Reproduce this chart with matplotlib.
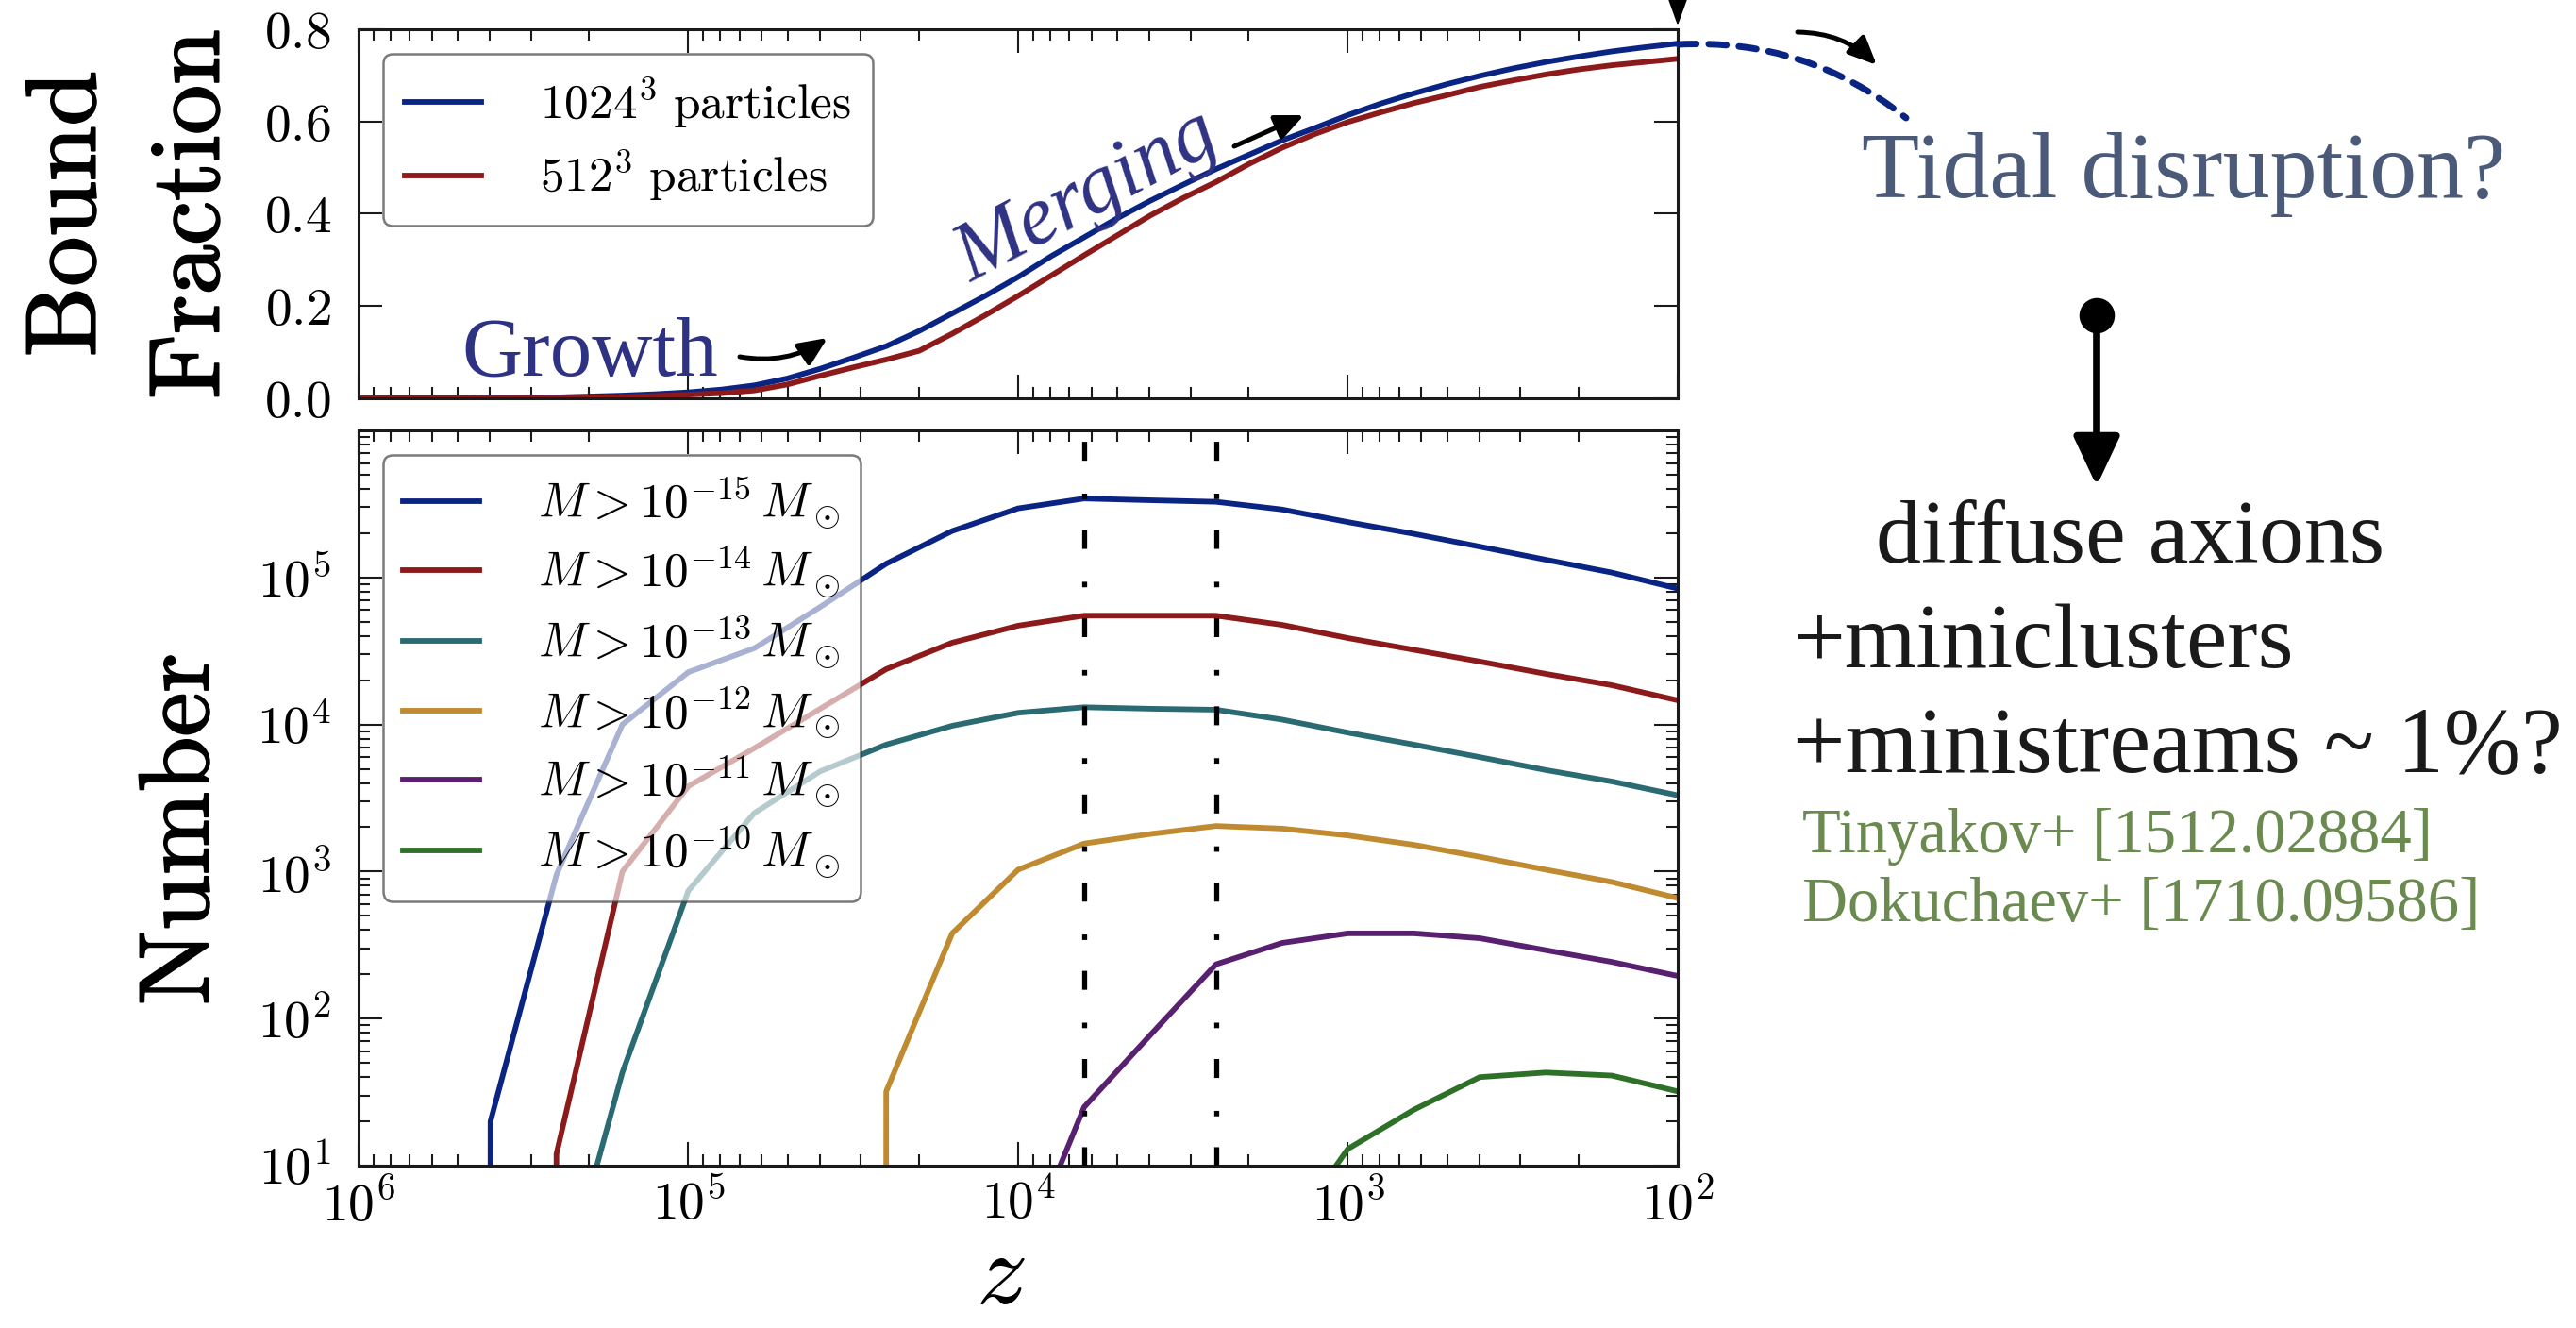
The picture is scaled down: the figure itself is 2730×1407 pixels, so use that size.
# bound fraction and halo counts vs redshift, with the side annotations

import numpy as np
import matplotlib
matplotlib.use('Agg')
import matplotlib.pyplot as plt
import matplotlib.patheffects as pe
from matplotlib.patches import FancyArrowPatch, Polygon
from matplotlib.lines import Line2D
from matplotlib.ticker import FixedLocator, FuncFormatter, LogLocator, NullFormatter, NullLocator

plt.rcParams['mathtext.fontset'] = 'cm'
plt.rcParams['font.family'] = ['Liberation Serif', 'DejaVu Serif']

W, H = 2730, 1407

# top panel: bound fraction, sampled in log10(z)
frac_logz = [6.0, 5.9, 5.8, 5.7, 5.6, 5.5, 5.4, 5.3, 5.2, 5.1, 5.0, 4.9, 4.8, 4.7, 4.6, 4.5, 4.4, 4.3, 4.2, 4.1,
             4.0, 3.9, 3.8, 3.7, 3.6, 3.5, 3.4, 3.3, 3.2, 3.1, 3.0, 2.9, 2.8, 2.7, 2.6, 2.5, 2.4, 2.3, 2.2, 2.1, 2.0]
frac_1024 = [0.0, 0.0, 0.0, 0.0, 0.001, 0.001, 0.002, 0.004, 0.006, 0.009, 0.013, 0.019, 0.028, 0.043, 0.064,
             0.088, 0.113, 0.146, 0.184, 0.222, 0.263, 0.308, 0.349, 0.390, 0.428, 0.463, 0.497, 0.528, 0.559,
             0.586, 0.614, 0.639, 0.661, 0.681, 0.699, 0.715, 0.729, 0.741, 0.752, 0.761, 0.769]
frac_512 = [0.0, 0.0, 0.0, 0.0, 0.0005, 0.001, 0.001, 0.002, 0.003, 0.005, 0.008, 0.011, 0.017, 0.030, 0.049,
            0.067, 0.084, 0.103, 0.140, 0.180, 0.222, 0.266, 0.310, 0.353, 0.396, 0.434, 0.469, 0.508, 0.543,
            0.573, 0.599, 0.620, 0.640, 0.657, 0.675, 0.689, 0.702, 0.713, 0.722, 0.729, 0.736]
frac_labels = [r'$1024^3\ \mathrm{particles}$', r'$512^3\ \mathrm{particles}$']

# bottom panel: number of halos above each mass cut
num_logz = [6.0, 5.8, 5.6, 5.4, 5.2, 5.0, 4.8, 4.6, 4.4, 4.2, 4.0, 3.8, 3.6, 3.4, 3.2, 3.0, 2.8, 2.6, 2.4, 2.2, 2.0]
num_m15 = [0, 0, 20, 950, 1.0e4, 2.27e4, 3.3e4, 6.3e4, 1.24e5, 2.07e5, 2.95e5, 3.44e5, 3.35e5, 3.27e5, 2.9e5,
           2.38e5, 1.98e5, 1.62e5, 1.32e5, 1.08e5, 8.4e4]
num_m14 = [0, 0, 0, 12, 1000, 3800, 6900, 1.28e4, 2.38e4, 3.6e4, 4.7e4, 5.5e4, 5.5e4, 5.5e4, 4.76e4, 3.87e4,
           3.22e4, 2.68e4, 2.21e4, 1.85e4, 1.46e4]
num_m13 = [0, 0, 0, 1, 43, 740, 2500, 4800, 7300, 9800, 1.2e4, 1.31e4, 1.28e4, 1.26e4, 1.08e4, 8800, 7300, 6000,
           4900, 4100, 3300]
num_m12 = [0, 0, 0, 0, 0, 0, 0, 0, 32, 380, 1030, 1550, 1800, 2040, 1960, 1760, 1520, 1260, 1030, 850, 660]
num_m11 = [0, 0, 0, 0, 0, 0, 0, 0, 0, 0, 2, 25, 77, 234, 327, 380, 380, 352, 292, 243, 195]
num_m10 = [0, 0, 0, 0, 0, 0, 0, 0, 0, 0, 0, 0, 0, 0, 3, 13, 24, 40, 43, 41, 32]
mass_exps = [-15, -14, -13, -12, -11, -10]
num_series = [num_m15, num_m14, num_m13, num_m12, num_m11, num_m10]

vline_logz = [3.8, 3.4]

blue = '#0a2484'
red = '#8c1a1a'
num_colors = [blue, red, '#2a6a72', '#c08a30', '#5a2070', '#2e7028']
indigo = '#2e3282'


def P(x, y):
    # pixel position (from top-left) -> figure fraction
    return (x / W, 1 - y / H)


fig = plt.figure(figsize=(W / 100, H / 100), dpi=100)
ax1 = fig.add_axes([380 / W, 1 - 422 / H, 1398 / W, 391 / H])
ax2 = fig.add_axes([380 / W, 1 - 1235 / H, 1398 / W, 779 / H])

for ax in (ax1, ax2):
    ax.set_xscale('log')
    ax.set_xlim(1e6, 1e2)
    ax.xaxis.set_major_locator(LogLocator(base=10, numticks=20))
    ax.xaxis.set_minor_locator(LogLocator(base=10, subs=np.arange(2, 10), numticks=20))
    ax.xaxis.set_minor_formatter(NullFormatter())
    ax.tick_params(which='both', direction='in', top=True, right=True, width=1.5, color='#1a1a1a')
    ax.tick_params(which='major', length=18, labelsize=40)
    ax.tick_params(which='minor', length=8.5)
    ax.tick_params(axis='x', pad=11)
    ax.tick_params(axis='y', pad=21)
    for s in ax.spines.values():
        s.set_linewidth(2.2)
        s.set_color('#1a1a1a')

# top panel
z_frac = 10 ** np.array(frac_logz)
ax1.plot(z_frac, frac_1024, color=blue, lw=4.2, label=frac_labels[0])
ax1.plot(z_frac, frac_512, color=red, lw=4.2, label=frac_labels[1])
ax1.set_ylim(0, 0.8)
ax1.yaxis.set_major_locator(FixedLocator([0.0, 0.2, 0.4, 0.6, 0.8]))
ax1.yaxis.set_major_formatter(FuncFormatter(lambda v, p: r'$%.1f$' % v))
ax1.yaxis.set_minor_locator(NullLocator())
ax1.tick_params(labelbottom=False)
leg1 = ax1.legend(loc='upper left', fontsize=37, fancybox=True, framealpha=0.65, edgecolor='0.2',
                  borderpad=0.45, handlelength=1.58, handletextpad=1.2, labelspacing=0.35, borderaxespad=0.5)
leg1.get_frame().set_linewidth(1.8)

# bottom panel
z_num = 10 ** np.array(num_logz)
for vals, c, e in zip(num_series, num_colors, mass_exps):
    ax2.plot(z_num, vals, color=c, lw=4.2, label=r'$M > 10^{%d}\,M_\odot$' % e)
for lz in vline_logz:
    ax2.axvline(10 ** lz, color='k', lw=3.8, dashes=[3.8, 6.2, 1.1, 6.6], zorder=3)
ax2.set_yscale('log', nonpositive='clip')
ax2.set_ylim(10, 1e6)
ax2.yaxis.set_major_locator(LogLocator(base=10, numticks=20))
ax2.yaxis.set_minor_locator(LogLocator(base=10, subs=np.arange(2, 10), numticks=20))
ax2.yaxis.set_minor_formatter(NullFormatter())
ax2.yaxis.set_major_formatter(FuncFormatter(
    lambda v, p: '' if v > 5e5 else r'$10^{%d}$' % int(round(np.log10(v)))))
ax2.xaxis.set_major_formatter(FuncFormatter(lambda v, p: r'$10^{%d}$' % int(round(np.log10(v)))))
leg2 = ax2.legend(loc='upper left', fontsize=37, fancybox=True, framealpha=0.65, edgecolor='0.2',
                  borderpad=0.42, handlelength=1.58, handletextpad=1.2, labelspacing=0.28, borderaxespad=0.5)
leg2.get_frame().set_linewidth(1.8)

# axis labels, slightly heavier strokes like the reference
bold = [pe.withStroke(linewidth=1.4, foreground='k')]
fig.text(*P(76, 227), r'$\mathrm{Bound}$', fontsize=76, rotation=90, ha='center', va='center', path_effects=bold)
fig.text(*P(207, 227), r'$\mathrm{Fraction}$', fontsize=76, rotation=90, ha='center', va='center',
         path_effects=bold)
fig.text(*P(196, 879), r'$\mathrm{Number}$', fontsize=76, rotation=90, ha='center', va='center',
         path_effects=bold)
fig.text(*P(1060, 1404), r'$z$', fontsize=78, ha='center', va='bottom')

# annotations on the plot
fig.text(*P(625, 398), 'Growth', fontsize=64, color=indigo, ha='center', va='baseline')
fig.text(*P(1162, 228), 'Merging', fontsize=64, color=indigo, style='italic', rotation=28,
         rotation_mode='anchor', ha='center', va='baseline')

head = 'head_length=1.8,head_width=0.8'
for a, b, rad in [((784, 378), (877, 358), 0.2), ((1308, 155), (1382, 122), 0.0), ((1905, 34), (1989, 69), -0.2)]:
    fig.patches.append(FancyArrowPatch(P(*a), P(*b), transform=fig.transFigure, arrowstyle='-|>,' + head,
                                       connectionstyle='arc3,rad=%g' % rad, mutation_scale=10, lw=3.6,
                                       color='k', shrinkA=0, shrinkB=0))

# dashed continuation past the last output
fig.patches.append(FancyArrowPatch(P(1779, 47), P(2020, 125), transform=fig.transFigure, arrowstyle='-',
                                   connectionstyle='arc3,rad=-0.19', lw=5, color=blue,
                                   linestyle=(0, (2.7, 1.9)), shrinkA=0, shrinkB=0))

# arrowhead at the top-right corner
fig.patches.append(Polygon([P(1769, 0), P(1787, 0), P(1778, 25)], closed=True, transform=fig.transFigure,
                           color='k'))

fig.text(*P(1973, 209), 'Tidal disruption?', fontsize=72, color='#4a5a78', ha='left', va='baseline')

# dot and arrow down to the outcome
fig.patches.append(FancyArrowPatch(P(2222, 334), P(2222, 515), transform=fig.transFigure,
                                   arrowstyle='-|>,head_length=3.2,head_width=1.5', mutation_scale=10,
                                   lw=5.5, color='k', shrinkA=0, shrinkB=0))
fig.lines.append(Line2D([2222 / W], [1 - 334 / H], transform=fig.transFigure, marker='o', markersize=26,
                        color='k'))

fig.text(*P(1988, 596), 'diffuse axions', fontsize=69, color='#1a1a1a')
fig.text(*P(1900, 707), '+miniclusters', fontsize=70, color='#1a1a1a')
fig.text(*P(1900, 817), '+ministreams ~ 1%?', fontsize=71, color='#1a1a1a')
fig.text(*P(1910, 903), 'Tinyakov+ [1512.02884]', fontsize=48, color='#6a8a50')
fig.text(*P(1910, 976), 'Dokuchaev+ [1710.09586]', fontsize=48, color='#6a8a50')

fig.savefig('out.png', dpi=100)
